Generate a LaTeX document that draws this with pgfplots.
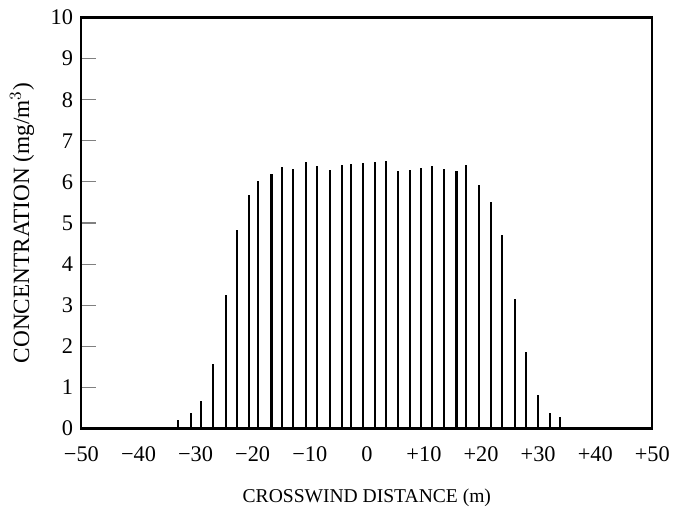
\documentclass[border=0pt]{standalone}
\usepackage{fontspec}
\setmainfont{Liberation Serif}
\usepackage{pgfplots}
\pgfplotsset{compat=1.18}

\begin{document}
\begin{tikzpicture}
\begin{axis}[
  scale only axis,
  width=306.5pt, height=220.7pt,
  xmin=-50, xmax=50, ymin=0, ymax=10,
  axis line style={line width=1.1pt},
  xtick={-50,-40,...,50},
  xticklabels={−50,−40,−30,−20,−10,0,+10,+20,+30,+40,+50},
  xtick style={draw=none},
  ytick={0,1,...,10},
  ytick pos=left,
  tick align=inside,
  major tick length=8pt,
  ytick style={line width=0.6pt},
  /pgf/number format/assume math mode=true,
  ticklabel style={font=\fontsize{12}{14}\selectfont},
  xticklabel style={yshift=-6pt},
  yticklabel style={xshift=-1pt},
  xlabel={CROSSWIND DISTANCE (m)},
  ylabel={CONCENTRATION (mg/m$^{3}$)},
  xlabel style={font=\fontsize{10.5}{12}\selectfont, yshift=-8pt},
  ylabel style={font=\fontsize{12.5}{14}\selectfont, yshift=2pt},
]
\addplot[ycomb, black, line width=1.1pt, mark=none] coordinates {
(-33.1,0.22) (-30.8,0.39) (-29.0,0.66) (-26.9,1.56) (-24.7,3.25)
(-22.7,4.82) (-20.7,5.68) (-19.0,6.02) (-16.7,6.20) (-14.8,6.36)
(-12.9,6.31) (-10.7,6.48) (-8.7,6.39) (-6.5,6.29) (-4.4,6.40)
(-2.7,6.43) (-0.7,6.45) (1.5,6.49) (3.4,6.51) (5.4,6.27)
(7.6,6.30) (9.5,6.35) (11.4,6.39) (13.5,6.31) (15.7,6.26)
(17.4,6.40) (19.7,5.93) (21.7,5.52) (23.6,4.71) (26.0,3.16)
(27.9,1.86) (30.0,0.82) (32.0,0.39) (33.9,0.29)
};
\draw[line width=1.6pt] (axis cs:-50,0) -- (axis cs:50,0);
\end{axis}
\path (current axis.south west) ++(-43.7pt,-49.7pt) coordinate (bl);
\path (current axis.north east) ++(10pt,9.4pt) coordinate (tr);
\useasboundingbox (bl) rectangle (tr);
\end{tikzpicture}
\end{document}
